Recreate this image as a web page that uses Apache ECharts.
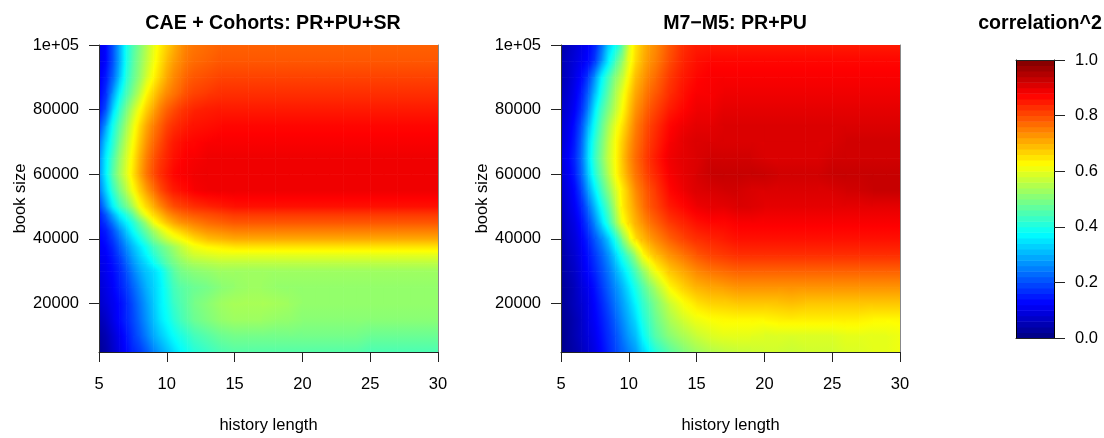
<!DOCTYPE html>
<html><head><meta charset="utf-8">
<style>html,body{margin:0;padding:0;background:#fff}#c{width:1104px;height:438px}</style>
<script src="https://cdn.jsdelivr.net/npm/echarts@6/dist/echarts.min.js"></script>
</head><body><div id="c"></div>
<script>
// history length samples (x)
const historyLengths = [5,5.5,6,6.5,7,7.5,8,8.5,9,9.5,10,10.5,11,11.5,12,13,14,15,16,17,18,19,20,21,22,23,24,25,26,27,28,29,30];
// book size samples (y), top to bottom
const bookSizesA = [100000,95000,90000,85000,80000,75000,70000,65000,60000,55000,50000,47500,45000,42500,40000,37500,35000,32500,30000,25000,20000,15000,10000,5000];
const bookSizesB = [100000,95000,90000,85000,80000,75000,70000,65000,60000,55000,50000,45000,40000,35000,30000,25000,20000,15000,10000,5000];
// correlation^2 in hundredths, one row per book size
const correlationA = [
[10,13,20,29,39,45,50,55,60,64,67,70,73,75,76, 77,78,78,78,78,78,78,78,78,78,78,78,78,78,78,78,78,78],
[10,13,20,29,39,46,51,56,61,65,69,72,74,76,77, 78,79,79,79,79,79,79,79,79,79,79,79,79,79,79,79,79,79],
[11,15,22,31,41,47,52,58,63,67,71,74,76,78,79, 80,81,81,81,81,81,81,81,81,81,81,81,81,81,81,81,81,81],
[12,17,27,37,44,50,56,63,67,71,74,76,78,80,81, 82,83,83,83,83,83,83,83,83,83,83,83,83,83,83,83,83,83],
[14,20,33,42,49,56,62,67,71,75,78,80,82,83,84, 85,85,85,85,85,85,85,85,85,85,85,85,85,85,85,85,85,85],
[18,28,39,46,53,60,66,71,75,78,81,83,84,85,86, 86,87,87,87,87,87,87,87,87,87,87,87,87,87,87,87,87,87],
[23,33,41,49,56,62,68,73,77,80,83,85,86,87,87, 88,88,88,88,88,88,88,88,88,88,88,88,88,88,88,88,88,88],
[26,36,44,52,58,64,70,75,79,82,84,86,87,88,88, 89,89,89,89,89,89,89,89,89,89,89,89,89,89,89,89,89,89],
[27,36,46,53,59,65,71,76,80,83,85,87,88,88,89, 89,89,89,89,89,89,89,89,89,89,89,89,89,89,89,89,89,89],
[24,33,42,49,55,62,67,72,76,80,83,85,86,87,88, 89,89,89,89,89,89,89,89,89,89,89,89,89,89,89,89,89,89],
[18,27,36,43,48,54,62,66,70,74,77,80,81,82,83, 84,85,86,86,86,86,86,86,86,86,86,86,86,86,86,86,86,86],
[15,21,29,36,41,47,55,62,66,69,73,75,77,78,79, 80,81,82,82,82,82,82,82,82,82,82,82,82,82,82,82,82,82],
[14,18,24,31,36,41,47,53,61,65,68,71,73,74,75, 77,78,79,79,79,79,79,79,79,79,79,79,79,79,79,79,79,79],
[13,15,20,26,32,38,43,48,53,58,62,65,67,69,71, 73,74,75,75,75,75,75,75,75,75,75,75,75,75,75,75,75,75],
[12,14,18,23,29,34,39,44,49,53,57,60,62,64,66, 69,70,71,71,71,71,71,71,71,71,71,71,71,71,71,71,71,71],
[11,13,16,21,26,31,35,39,44,47,50,53,56,59,61, 63,64,65,65,65,65,65,65,65,65,65,65,65,65,65,65,65,65],
[11,12,15,19,24,29,33,37,41,45,48,51,54,56,58, 59,60,60,60,60,60,60,60,60,60,60,60,60,60,60,60,60,60],
[10,11,14,17,22,27,31,34,38,42,46,49,51,53,54, 55,56,56,56,56,56,56,56,56,56,56,56,56,56,56,56,56,56],
[ 9,11,13,16,20,25,29,32,34,37,42,46,49,50,51, 52,53,53,53,53,53,53,53,53,53,53,53,53,53,53,53,53,53],
[ 8,10,12,15,18,22,26,30,33,36,40,44,46,47,48, 49,51,52,53,53,52,52,52,52,52,52,52,52,52,52,52,52,52],
[ 7, 9,11,13,16,20,24,28,32,36,39,43,45,47,49, 51,53,54,54,54,54,53,52,52,52,52,52,52,52,52,52,52,52],
[ 5, 7,10,13,16,19,23,27,31,35,38,41,44,46,48, 50,52,53,53,53,52,52,51,51,51,51,51,51,51,51,51,51,51],
[ 3, 5, 8,11,14,18,21,25,29,32,35,38,40,42,44, 46,48,49,49,49,49,49,49,49,49,49,49,48,48,48,48,48,48],
[ 2, 4, 7,10,13,16,18,21,25,28,31,34,37,39,41, 43,45,46,46,46,46,46,46,46,46,46,46,45,45,45,45,45,45]
];
const correlationB = [
[ 4, 6, 8,10,12,16,23,33,38,45,59,65,69,72,74, 79,83,85,85,85,85,85,85,85,85,85,85,85,85,85,85,85,85],
[ 5, 7, 9,11,13,18,27,36,44,52,60,66,70,73,75, 80,84,86,87,87,87,87,87,87,87,87,87,87,87,87,87,87,87],
[ 5, 7,10,13,18,27,37,44,51,56,63,69,72,75,77, 82,85,87,88,88,88,88,88,88,88,88,88,88,88,88,88,88,88],
[ 6, 8,11,15,22,31,40,47,54,60,66,71,74,77,79, 83,86,88,88,89,89,89,89,89,89,89,89,89,89,89,89,89,89],
[ 7, 9,12,17,25,36,44,50,56,62,68,73,76,79,81, 85,87,89,89,90,90,90,90,90,90,90,90,90,90,90,90,90,90],
[ 8,10,14,20,30,39,47,54,60,65,70,75,78,81,83, 87,89,90,90,91,91,91,91,91,91,91,91,91,91,91,91,91,91],
[ 8,11,15,22,33,42,49,56,62,67,72,76,79,82,84, 88,90,91,91,91,91,91,91,91,91,91,91,91,92,92,92,92,92],
[ 9,12,16,23,34,43,50,57,62,68,73,77,80,83,85, 89,90,91,92,92,92,92,91,91,91,91,91,92,92,92,92,92,92],
[ 8,11,15,22,32,41,48,55,62,67,72,76,79,82,84, 88,90,91,93,93,93,93,93,92,92,92,92,93,93,93,93,93,93],
[ 7,10,13,19,28,36,44,51,58,64,69,74,77,80,82, 87,89,91,91,92,92,91,91,91,91,91,91,91,92,92,93,93,93],
[ 6, 9,12,16,23,31,39,46,55,64,68,72,76,79,81, 85,87,89,90,90,91,91,90,90,90,90,90,90,90,90,90,90,90],
[ 5, 8,10,14,19,26,34,42,51,61,66,70,73,76,78, 82,84,86,87,87,88,88,88,88,88,88,88,88,88,88,88,88,88],
[ 4, 7, 9,12,16,21,26,32,40,49,59,66,69,72,74, 78,81,83,84,85,86,86,86,86,86,86,86,86,86,86,86,86,86],
[ 3, 6, 8,11,14,18,22,27,33,40,46,53,62,66,69, 73,76,79,81,82,83,83,83,83,83,83,83,83,83,83,83,83,83],
[ 3, 5, 7,10,13,16,20,24,29,34,39,45,51,57,62, 68,71,74,76,77,78,78,78,78,78,78,78,78,78,78,78,78,78],
[ 2, 4, 6, 9,11,14,18,22,26,30,35,40,45,50,54, 63,67,70,71,72,73,73,73,73,73,73,73,73,73,73,73,73,73],
[ 2, 4, 6, 8,10,13,16,20,24,28,32,37,42,46,50, 57,62,65,67,67,68,68,68,68,69,68,68,68,68,68,68,68,68],
[ 2, 3, 5, 7,10,12,15,18,22,26,30,34,40,44,48, 54,58,61,62,63,63,63,63,64,64,64,64,64,64,64,63,63,63],
[ 1, 3, 5, 7, 9,11,14,17,20,24,28,31,37,42,46, 51,54,57,59,60,60,60,59,59,59,59,59,59,60,60,60,60,61],
[ 1, 3, 4, 6, 8,10,13,16,19,22,25,28,33,37,41, 46,50,53,55,56,57,57,58,58,57,58,58,58,59,59,60,60,61]
];
// colour bar levels, hundredths
const colorbarLevels = [1,3,5,7,9,11,13,15,17,19,21,23,25,27,29,31,33,35,37,39,41,43,45,47,49,51,53,55,57,59,61,63,65,67,69,71,73,75,77,79,81,83,85,87,89,91,93,95,97,99];
const xTicks = [5,10,15,20,25,30];
const yTicks = [20000,40000,60000,80000,100000];
const barTicks = [0,0.2,0.4,0.6,0.8,1];
const jet = ['#00007f','#0000ff','#007fff','#00ffff','#7fff7f','#ffff00','#ff7f00','#ff0000','#7f0000'];
const FONT = 'Liberation Sans';
const FS = 16.5;
const TITLE_FS = 19.6;

const col = v => echarts.color.lerp(Math.max(0, Math.min(1, v)), jet);

// one mesh cell between four neighbouring read samples
function cells(rows, ys) {
  const out = [];
  for (let r = 0; r < ys.length - 1; r++) {
    for (let c = 0; c < historyLengths.length - 1; c++) {
      out.push([historyLengths[c], historyLengths[c + 1], ys[r + 1], ys[r],
        rows[r][c] / 100, rows[r][c + 1] / 100, rows[r + 1][c] / 100, rows[r + 1][c + 1] / 100]);
    }
  }
  return out;
}
// shade a cell with the linear gradient that best fits its four corners
function renderCell(params, api) {
  const a = api.coord([api.value(0), api.value(3)]);
  const b = api.coord([api.value(1), api.value(2)]);
  const w = b[0] - a[0], h = b[1] - a[1];
  const tl = api.value(4), tr = api.value(5), bl = api.value(6), br = api.value(7);
  const mean = (tl + tr + bl + br) / 4;
  const dv = ((tr + br) - (tl + bl)) / 2;   // change across the cell, left to right
  const dh = ((bl + br) - (tl + tr)) / 2;   // change across the cell, top to bottom
  const gx = dv / w, gy = dh / h, g2 = gx * gx + gy * gy;
  let fill = col(mean);
  if (g2 > 1e-12) {
    const half = (Math.abs(dv) + Math.abs(dh)) / 2;
    const cx = a[0] + w / 2, cy = a[1] + h / 2;
    const k = half / g2;
    const stops = [0, 0.25, 0.5, 0.75, 1].map(t => ({ offset: t, color: col(mean - half + 2 * half * t) }));
    fill = new echarts.graphic.LinearGradient(cx - gx * k, cy - gy * k, cx + gx * k, cy + gy * k, stops, true);
  }
  return { type: 'rect', shape: { x: a[0], y: a[1], width: w + 0.6, height: h + 0.6 }, style: { fill } };
}
function renderBar(params, api) {
  const a = api.coord([0, api.value(1)]);
  const b = api.coord([1, api.value(0)]);
  return {
    type: 'rect',
    shape: { x: a[0], y: a[1], width: b[0] - a[0], height: b[1] - a[1] + 0.5 },
    style: { fill: col((api.value(0) + api.value(1)) / 2) }
  };
}
const txt = { fontFamily: FONT, fontSize: FS, color: '#000' };

const grids = [
  { left: 99, top: 45, width: 339, height: 307, outerBoundsMode: 'none' },
  { left: 561, top: 45, width: 339, height: 307, outerBoundsMode: 'none' },
  { left: 1016, top: 60, width: 38, height: 278, outerBoundsMode: 'none' }
];
const xAxes = [], yAxes = [];
[0, 1].forEach(i => {
  xAxes.push({
    gridIndex: i, type: 'value', min: 5, max: 30, interval: 5, z: 5,
    name: 'history length', nameLocation: 'middle', nameGap: 65,
    nameTextStyle: Object.assign({}, txt),
    axisLine: { show: true, lineStyle: { color: '#222', width: 1 } },
    axisTick: { show: true, length: 10, customValues: xTicks, lineStyle: { color: '#222', width: 1 } },
    axisLabel: Object.assign({ margin: 24, customValues: xTicks }, txt),
    splitLine: { show: false }
  });
  yAxes.push({
    gridIndex: i, type: 'value', min: 5000, max: 100000, z: 5,
    name: 'book size', nameLocation: 'middle', nameGap: 70,
    nameTextStyle: Object.assign({}, txt),
    axisLine: { show: true, lineStyle: { color: '#333', width: 1 } },
    axisTick: { show: true, length: 10, customValues: yTicks, lineStyle: { color: '#222', width: 1 } },
    axisLabel: Object.assign({ margin: 20, customValues: yTicks,
      formatter: v => v === 100000 ? '1e+05' : String(v) }, txt),
    splitLine: { show: false }
  });
  // right edge of the plot frame
  yAxes.push({
    gridIndex: i, type: 'value', min: 5000, max: 100000, position: 'right', z: 5,
    axisLine: { show: true, onZero: false, lineStyle: { color: '#888', width: 1 } },
    axisTick: { show: false }, axisLabel: { show: false }, splitLine: { show: false }
  });
});
// colour bar axes
xAxes.push({ gridIndex: 2, type: 'value', min: 0, max: 1, z: 5,
  axisLine: { show: true, onZero: false, lineStyle: { color: '#222' } }, axisTick: { show: false }, axisLabel: { show: false }, splitLine: { show: false } });
xAxes.push({ gridIndex: 2, type: 'value', min: 0, max: 1, position: 'top', z: 5,
  axisLine: { show: true, onZero: false, lineStyle: { color: '#222' } }, axisTick: { show: false }, axisLabel: { show: false }, splitLine: { show: false } });
yAxes.push({ gridIndex: 2, type: 'value', min: 0, max: 1, position: 'right', z: 5,
  axisLine: { show: true, onZero: false, lineStyle: { color: '#000' } },
  axisTick: { show: true, length: 11, customValues: barTicks, lineStyle: { color: '#222' } },
  axisLabel: Object.assign({ margin: 21, customValues: barTicks, formatter: v => v.toFixed(1) }, txt),
  splitLine: { show: false } });
yAxes.push({ gridIndex: 2, type: 'value', min: 0, max: 1, position: 'left', z: 5,
  axisLine: { show: true, onZero: false, lineStyle: { color: '#000' } }, axisTick: { show: false }, axisLabel: { show: false }, splitLine: { show: false } });

const heat = (xi, yi, d) => ({
  type: 'custom', xAxisIndex: xi, yAxisIndex: yi, data: d, renderItem: renderCell,
  clip: true, silent: true, encode: { x: [0, 1], y: [2, 3] }, animation: false
});
const titleStyle = { fontFamily: FONT, fontSize: TITLE_FS, fontWeight: 'bold', color: '#000' };
const chart = echarts.init(document.getElementById('c'), null, { renderer: 'canvas' });
chart.setOption({
  backgroundColor: '#fff',
  animation: false,
  title: [
    { text: 'CAE + Cohorts: PR+PU+SR', left: 268, top: 9, textAlign: 'center', textStyle: titleStyle },
    { text: 'M7\u2212M5: PR+PU', left: 730, top: 9, textAlign: 'center', textStyle: titleStyle },
    { text: 'correlation^2', left: 1035, top: 9, textAlign: 'center', textStyle: titleStyle }
  ],
  grid: grids,
  xAxis: xAxes,
  yAxis: yAxes,
  series: [
    heat(0, 0, cells(correlationA, bookSizesA)),
    heat(1, 2, cells(correlationB, bookSizesB)),
    { type: 'custom', xAxisIndex: 2, yAxisIndex: 4,
      data: colorbarLevels.map(l => [(l - 1) / 100, (l + 1) / 100]),
      renderItem: renderBar, clip: true, silent: true, encode: { y: [0, 1] }, animation: false }
  ]
});
</script></body></html>
